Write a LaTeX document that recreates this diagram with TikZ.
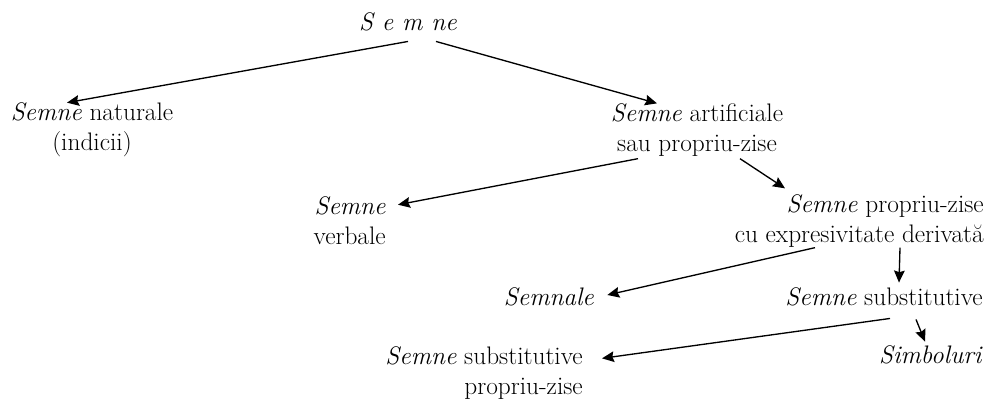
\documentclass[tikz,border=0pt]{standalone}
\usepackage{fontspec}
\usepackage{tikz}
\usetikzlibrary{arrows.meta,calc}
\tikzset{
	sign/.style={inner sep=0pt, font=\fontsize{19}{22.5}\selectfont, align=center},
	signr/.style={sign, align=right, anchor=east},
	diredge/.style={->,>={Stealth[width=8pt,length=9pt,inset=1.2pt]},color=black, line width=1pt}
}
\begin{document}
\begin{tikzpicture}[x=0.75pt,y=-0.75pt]
\useasboundingbox (0,0) rectangle (988,401);

    \node[sign] (Top) at (408,22) {\textit{S e m ne}};
    \node[sign] (Nat) at (92,130) {\textit{Semne} naturale\\(indicii)};
    \node[sign] (Art) at (697,130) {\textit{Semne} artificiale\\sau propriu-zise};

    \node[signr] (Verb) at (386,221) {\textit{Semne}\\verbale};
    \node[signr] (Der) at (984,221) {\textit{Semne} propriu-zise\\cu expresivitate derivată};

    \node[sign] (Sem) at (549,297) {\textit{Semnale}};
    \node[signr] (Sub) at (983,297) {\textit{Semne} substitutive};

    \node[signr] (Prop) at (583,373) {\textit{Semne} substitutive\\propriu-zise};
    \node[signr] (Sim) at (983,355) {\textit{Simboluri}};

    \draw[diredge] ($(Top.south)+(0,10)$) -- ($(Nat.north)+(-25,0)$);
    \draw[diredge] ($(Top.south)+(28,10)$) -- ($(Art.north)+(-40,0)$);

    \draw[diredge] ($(Art.south)+(-59,2)$) -- ($(Verb.north east)+(12,8)$);
    \draw[diredge] ($(Art.south)+(43,2)$) -- ($(Der.north east)+(-199,-6)$);

    \draw[diredge] ($(Der.south east)+(-169,0)$) -- ($(Sem.east)+(13,-2)$);
    \draw[diredge] ($(Der.south east)+(-84,0)$) -- ($(Sub.north east)+(-84,-5)$);

    \draw[diredge] ($(Sub.south east)+(-93,12)$) -- ($(Prop.north east)+(19,12)$);
    \draw[diredge] ($(Sub.south east)+(-67,13)$) -- ($(Sim.north east)+(-58,-4)$);
\end{tikzpicture}
\end{document}
